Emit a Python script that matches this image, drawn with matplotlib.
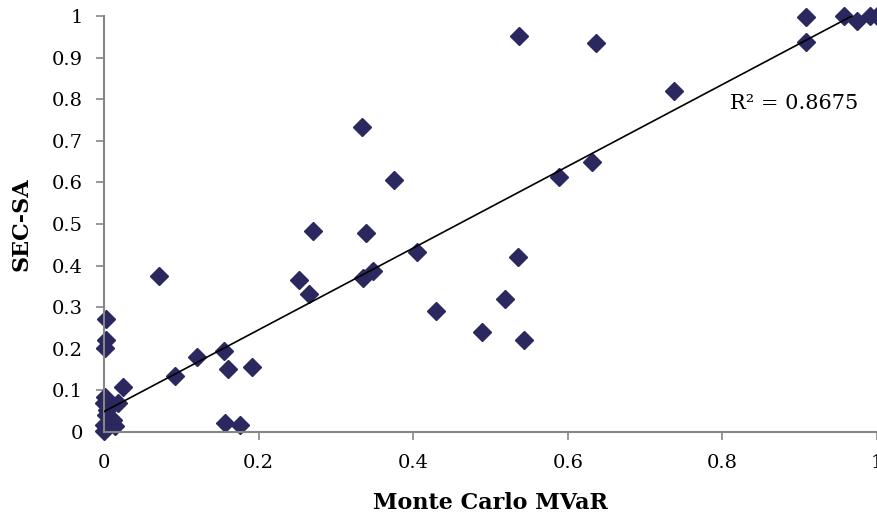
import numpy as np
from matplotlib import pyplot as plt

# data
mc_mvar = [0.003, 0.003, 0.001, 0.025, 0.001, 0.018, 0.004, 0.000, 0.014, 0.000,
           0.000, 0.012, 0.002, 0.071, 0.092, 0.120, 0.155, 0.160, 0.191, 0.157,
           0.176, 0.252, 0.265, 0.270, 0.334, 0.335, 0.339, 0.348, 0.375, 0.405,
           0.429, 0.489, 0.519, 0.536, 0.543, 0.537, 0.588, 0.631, 0.636, 0.737,
           0.908, 0.908, 0.957, 0.974, 0.991, 1.000]
sec_sa = [0.271, 0.221, 0.202, 0.109, 0.085, 0.069, 0.053, 0.017, 0.014, 0.003,
          0.069, 0.029, 0.040, 0.375, 0.135, 0.180, 0.194, 0.151, 0.156, 0.022,
          0.017, 0.365, 0.332, 0.484, 0.734, 0.371, 0.479, 0.386, 0.605, 0.432,
          0.292, 0.240, 0.320, 0.421, 0.221, 0.953, 0.612, 0.648, 0.936, 0.819,
          0.998, 0.938, 1.000, 0.987, 0.999, 1.000]

trend_intercept = 0.049
trend_slope = 0.983
r2_text = 'R² = 0.8675'

plt.rcParams['font.family'] = ['DejaVu Serif']

fig = plt.figure(figsize=(8.78, 5.15), dpi=100)
ax = fig.add_axes([104/878, 83/515, 773/878, 416/515])

xs = np.array([0, 1])
ax.plot(xs, trend_intercept + trend_slope * xs, color='black', lw=1.2, zorder=3)
ax.plot(mc_mvar, sec_sa, linestyle='none', marker='D', markersize=9.5,
        color='#2A285F', markeredgecolor='#2A285F', zorder=2, clip_on=False)

ax.set_xlim(0, 1)
ax.set_ylim(0, 1)
ax.set_xticks(np.arange(0, 1.01, 0.2))
ax.set_xticklabels(['0', '0.2', '0.4', '0.6', '0.8', '1'])
ax.set_yticks(np.arange(0, 1.01, 0.1))
ax.set_yticklabels(['0', '0.1', '0.2', '0.3', '0.4', '0.5', '0.6', '0.7', '0.8', '0.9', '1'])

for s in ['top', 'right']:
    ax.spines[s].set_visible(False)
for s in ['left', 'bottom']:
    ax.spines[s].set_color('#868686')
    ax.spines[s].set_linewidth(1.5)
ax.tick_params(axis='x', direction='out', length=6, width=1.2, color='#868686',
               labelsize=14, labelcolor='black', pad=10)
ax.tick_params(axis='y', direction='out', length=6, width=1.2, color='#868686',
               labelsize=14, labelcolor='black', pad=9)

ax.set_xlabel('Monte Carlo MVaR', fontsize=16, fontweight='bold', labelpad=14)
ax.set_ylabel('SEC-SA', fontsize=16, fontweight='bold', labelpad=14)

ax.text(0.81, 0.79, r2_text, fontsize=15, ha='left', va='center')

fig.savefig('out.png', dpi=100)
